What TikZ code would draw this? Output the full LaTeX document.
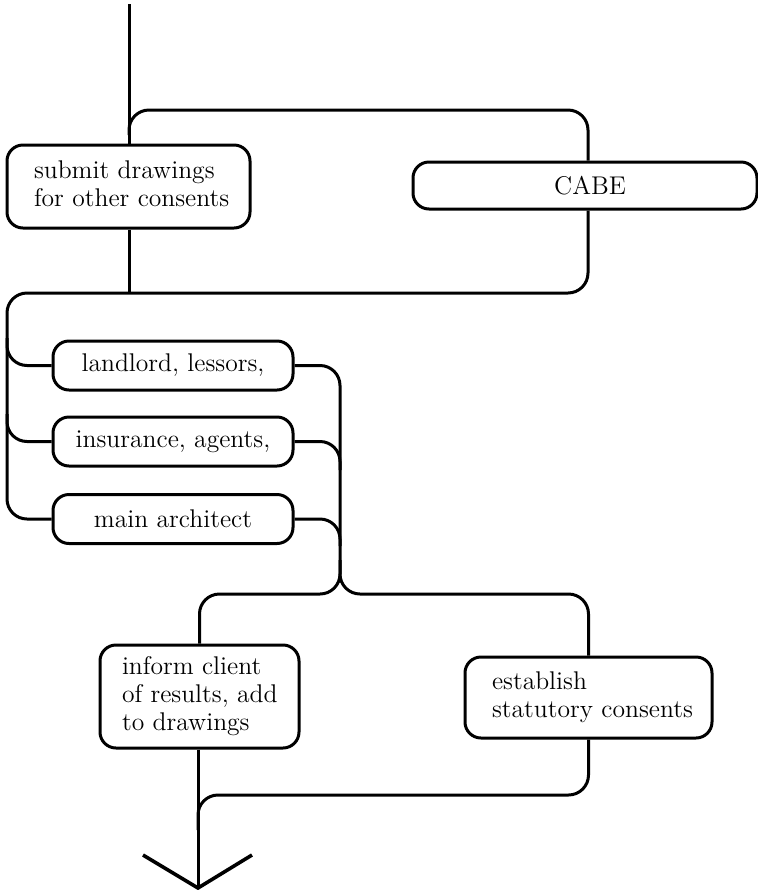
\documentclass[tikz,border=0pt]{standalone}
\usetikzlibrary{calc}
% left-aligned block of lines inside a box of fixed inner width
\newcommand{\linesin}[2]{\makebox[#1][l]{\begin{tabular}{@{}l@{}}#2\end{tabular}}}
\begin{document}
\begin{tikzpicture}[x=0.5pt,y=-0.5pt,
  line width=1.5pt,
  every node/.style={font=\fontsize{12.8}{14}\selectfont},
  box/.style={draw,rounded corners=8pt,inner ysep=0pt},
  leftbox/.style={box,inner xsep=#1},
  flow/.style={rounded corners=10pt}]
\useasboundingbox (0,0) rectangle (758,890);

% boxes
\node[leftbox=13.5pt,minimum height=41.5pt] (submit) at (128.5,186.5)
  {\linesin{94.5pt}{submit drawings\\for other consents}};
\node[box,minimum width=172pt,minimum height=23.5pt] (cabe) at (585,185.5) {\hspace*{5pt}CABE};
\node[box,minimum width=120pt,minimum height=24.5pt] (land) at (173,365.5) {landlord, lessors,};
\node[box,minimum width=120pt,minimum height=24.5pt] (ins) at (173,441.5) {insurance, agents,};
\node[box,minimum width=120pt,minimum height=24.5pt] (arch) at (173,519) {main architect};
\node[leftbox=11pt,minimum height=51.5pt] (inform) at (199.5,696.5)
  {\linesin{77.5pt}{inform client\\of results, add\\to drawings}};
\node[leftbox=13.5pt,minimum height=40.5pt] (estab) at (588.5,697.5)
  {\linesin{96.5pt}{establish\\statutory consents}};

% reference points of the connectors
\coordinate (top) at (129,4);
\coordinate (cx) at (588,0);
\coordinate (mx) at (340,0);
\coordinate (lx) at (7,0);
\coordinate (tip) at (198,888);
\coordinate (tipL) at (143,855);
\coordinate (tipR) at (252,855);

% incoming line and branch to CABE
\draw (top) -- (top |- submit.north);
\draw[flow] ($(top)+(0,131)$) -- ($(top)+(0,106)$) -- (cx |- 0,110) -- (cx |- cabe.north);

% returns from submit and CABE to the left rail
\draw (top |- submit.south) -- (top |- 0,293);
\draw[flow] (cx |- cabe.south) -- (cx |- 0,293) -- (lx |- 0,293) -- (lx |- arch.west) -- (arch.west);
\draw[flow] (lx |- 0,338) -- (lx |- land.west) -- (land.west);
\draw[flow] (lx |- 0,414) -- (lx |- ins.west) -- (ins.west);

% right-hand collector
\draw[flow] (land.east) -- (mx |- land.east) -- (mx |- 0,594) -- (inform.north |- 0,594) -- (inform.north);
\draw[flow] (mx |- 0,560) -- (mx |- 0,594) -- (estab.north |- 0,594) -- (estab.north);
\draw[flow] (ins.east) -- (mx |- ins.east) -- (mx |- 0,470);
\draw[flow] (arch.east) -- (mx |- arch.east) -- (mx |- 0,546);

% join below and outgoing arrow
\draw[flow] (estab.south) -- (estab.south |- 0,795) -- (tip |- 0,795) -- (tip |- 0,830);
\draw (tip |- inform.south) -- (tip);
\draw[line width=1.8pt,line join=miter] (tipL) -- (tip) -- (tipR);
\end{tikzpicture}
\end{document}
